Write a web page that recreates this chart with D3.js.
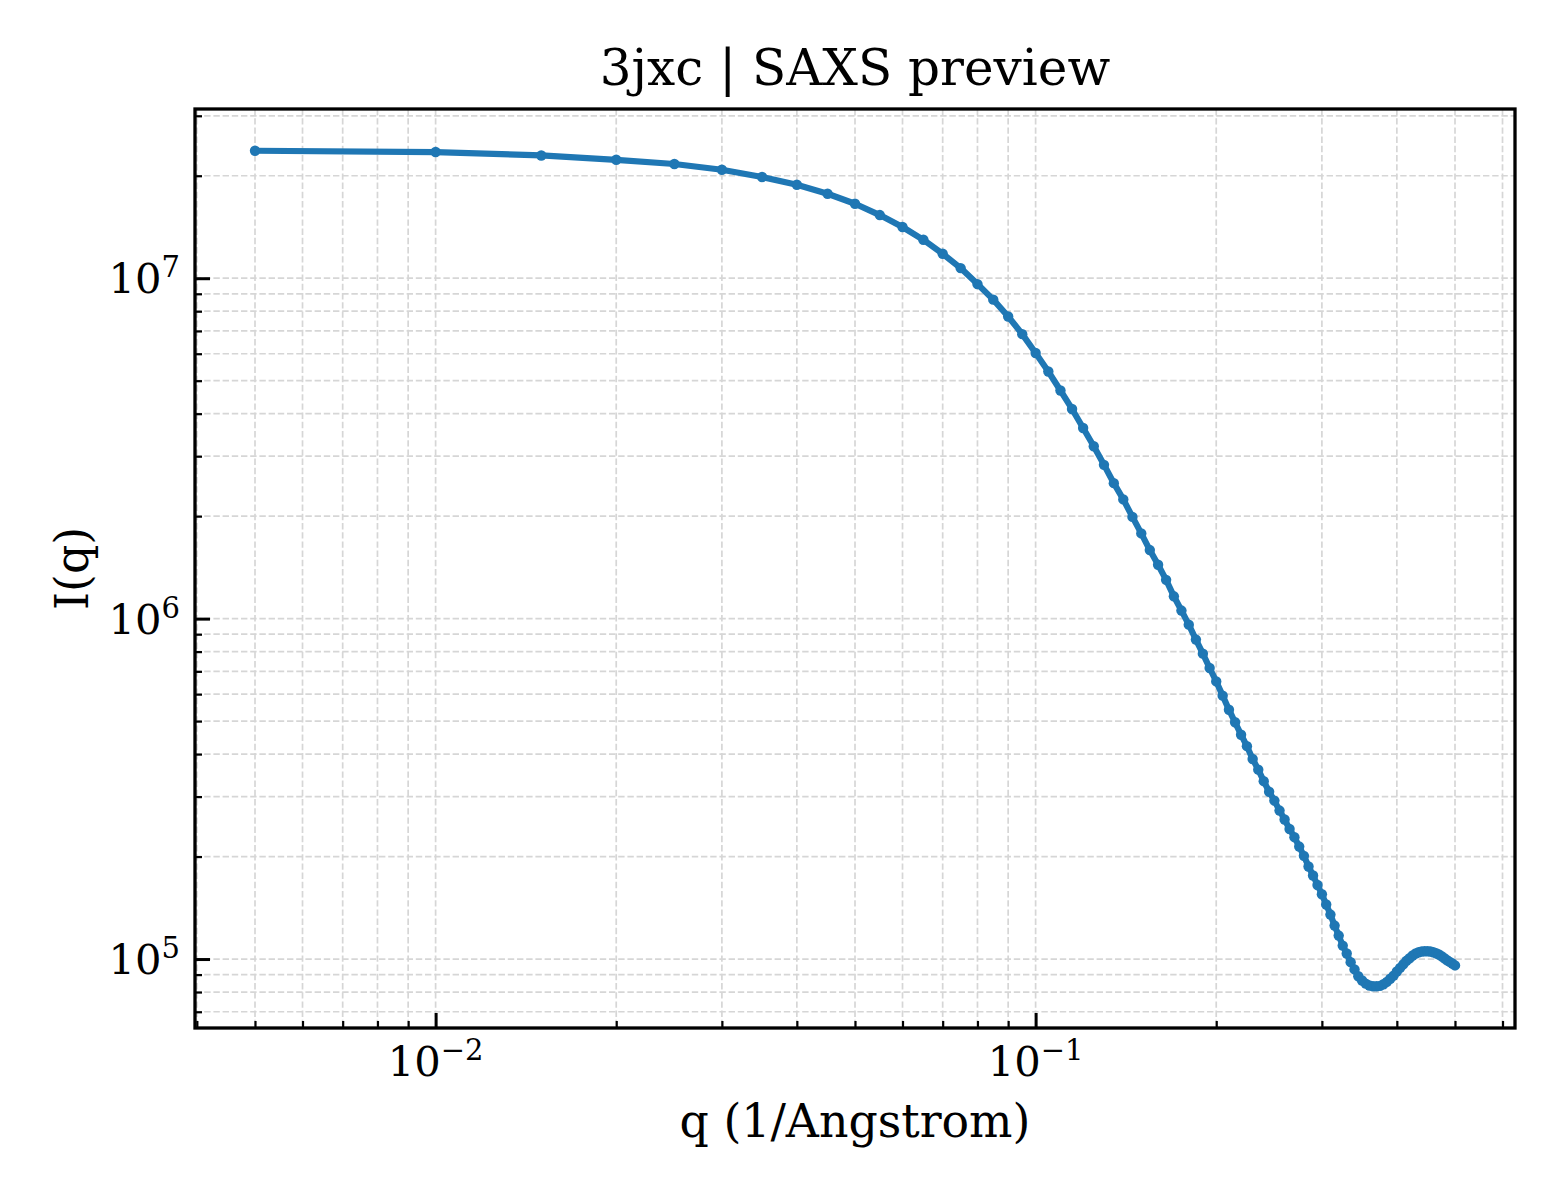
<!DOCTYPE html>
<html>
<head>
<meta charset="utf-8">
<script src="https://cdn.jsdelivr.net/npm/d3@7"></script>
<style>
  html, body { margin: 0; padding: 0; background: #fff; }
  svg text { font-family: "DejaVu Serif", serif; fill: #000; }
</style>
</head>
<body>
<svg id="chart" width="1560" height="1200"></svg>
<script>
// q (1/Angstrom) sampled every 0.005
var qValues = [
    0.005, 0.010, 0.015, 0.020, 0.025, 0.030, 0.035, 0.040, 0.045, 0.050,
    0.055, 0.060, 0.065, 0.070, 0.075, 0.080, 0.085, 0.090, 0.095, 0.100,
    0.105, 0.110, 0.115, 0.120, 0.125, 0.130, 0.135, 0.140, 0.145, 0.150,
    0.155, 0.160, 0.165, 0.170, 0.175, 0.180, 0.185, 0.190, 0.195, 0.200,
    0.205, 0.210, 0.215, 0.220, 0.225, 0.230, 0.235, 0.240, 0.245, 0.250,
    0.255, 0.260, 0.265, 0.270, 0.275, 0.280, 0.285, 0.290, 0.295, 0.300,
    0.305, 0.310, 0.315, 0.320, 0.325, 0.330, 0.335, 0.340, 0.345, 0.350,
    0.355, 0.360, 0.365, 0.370, 0.375, 0.380, 0.385, 0.390, 0.395, 0.400,
    0.405, 0.410, 0.415, 0.420, 0.425, 0.430, 0.435, 0.440, 0.445, 0.450,
    0.455, 0.460, 0.465, 0.470, 0.475, 0.480, 0.485, 0.490, 0.495, 0.500
];

// I(q)
var intensity = [
    2.368e7, 2.348e7, 2.294e7, 2.228e7, 2.165e7, 2.083e7, 1.983e7, 1.882e7, 1.771e7, 1.655e7,
    1.533e7, 1.414e7, 1.297e7, 1.180e7, 1.071e7, 9.61e6, 8.65e6, 7.72e6, 6.85e6, 6.03e6,
    5.32e6, 4.68e6, 4.13e6, 3.63e6, 3.21e6, 2.83e6, 2.50e6, 2.24e6, 1.99e6, 1.78e6,
    1.59e6, 1.44e6, 1.30e6, 1.163e6, 1.056e6, 9.60e5, 8.68e5, 7.89e5, 7.16e5, 6.54e5,
    5.94e5, 5.40e5, 4.96e5, 4.56e5, 4.22e5, 3.87e5, 3.60e5, 3.33e5, 3.10e5, 2.92e5,
    2.73e5, 2.57e5, 2.41e5, 2.28e5, 2.14e5, 2.01e5, 1.87e5, 1.76e5, 1.65e5, 1.55e5,
    1.446e5, 1.351e5, 1.254e5, 1.172e5, 1.095e5, 1.038e5, 9.79e4, 9.32e4, 8.90e4, 8.65e4,
    8.47e4, 8.36e4, 8.32e4, 8.32e4, 8.34e4, 8.43e4, 8.57e4, 8.75e4, 8.94e4, 9.19e4,
    9.42e4, 9.65e4, 9.88e4, 1.005e5, 1.024e5, 1.038e5, 1.047e5, 1.052e5, 1.054e5, 1.054e5,
    1.052e5, 1.047e5, 1.040e5, 1.031e5, 1.019e5, 1.005e5, 9.92e4, 9.81e4, 9.70e4, 9.58e4
];

// decade exponents that get a label
var xTickExponents = [-2, -1];
var yTickExponents = [5, 6, 7];

var titleText = "3jxc | SAXS preview";
var xLabelText = "q (1/Angstrom)";
var yLabelText = "I(q)";

var setting = {
    left: 195, right: 1515, top: 109, bottom: 1028,
    lineColor: "#1f77b4",
    gridColor: "#d6d6d6"
};

var svg = d3.select("#chart");

/***
 * Log domain padded by 5% of the span in log space, like matplotlib does
 */
function paddedLogDomain(values) {
    var lo = Math.log10(d3.min(values)),
        hi = Math.log10(d3.max(values)),
        pad = (hi - lo) * 0.05;
    return [Math.pow(10, lo - pad), Math.pow(10, hi + pad)];
}

var x = d3.scaleLog()
    .domain(paddedLogDomain(qValues))
    .range([setting.left, setting.right]);

var y = d3.scaleLog()
    .domain(paddedLogDomain(intensity))
    .range([setting.bottom, setting.top]);

/***
 * All 1..9 x 10^k values inside a log domain, split in major / minor
 */
function logTicks(scale) {
    var d = scale.domain(),
        major = [], minor = [];
    for (var k = Math.floor(Math.log10(d[0])); k <= Math.ceil(Math.log10(d[1])); k++) {
        for (var m = 1; m <= 9; m++) {
            var v = m * Math.pow(10, k);
            if (v < d[0] || v > d[1]) continue;
            if (m == 1) major.push(v); else minor.push(v);
        }
    }
    return {major: major, minor: minor};
}

var xt = logTicks(x), yt = logTicks(y);
var allX = xt.major.concat(xt.minor), allY = yt.major.concat(yt.minor);

// dashed grid, major and minor
var grid = svg.append("g")
    .attr("stroke", setting.gridColor)
    .attr("stroke-width", 1.7)
    .attr("stroke-dasharray", "6.4,2.8");

grid.selectAll("line.vx")
    .data(allX)
    .enter()
    .append("line")
    .attr("class", "vx")
    .attr("x1", function (d) { return x(d); })
    .attr("x2", function (d) { return x(d); })
    .attr("y1", setting.top)
    .attr("y2", setting.bottom);

grid.selectAll("line.hy")
    .data(allY)
    .enter()
    .append("line")
    .attr("class", "hy")
    .attr("x1", setting.left)
    .attr("x2", setting.right)
    .attr("y1", function (d) { return y(d); })
    .attr("y2", function (d) { return y(d); });

// the curve
var line = d3.line()
    .x(function (d, i) { return x(qValues[i]); })
    .y(function (d) { return y(d); });

svg.append("path")
    .datum(intensity)
    .attr("fill", "none")
    .attr("stroke", setting.lineColor)
    .attr("stroke-width", 6.2)
    .attr("stroke-linejoin", "round")
    .attr("d", line);

svg.append("g")
    .selectAll("circle")
    .data(intensity)
    .enter()
    .append("circle")
    .attr("cx", function (d, i) { return x(qValues[i]); })
    .attr("cy", function (d) { return y(d); })
    .attr("r", 5.2)
    .attr("fill", setting.lineColor);

// inward ticks on left and bottom
function drawTicks(axis, transform, width) {
    var g = svg.append("g").attr("transform", transform).call(axis);
    g.select(".domain").remove();
    g.selectAll(".tick line").attr("stroke", "#000").attr("stroke-width", width);
    g.selectAll(".tick text").remove();
}

drawTicks(d3.axisBottom(x).tickValues(xt.major).tickSize(-15),
    "translate(0," + setting.bottom + ")", 3);
drawTicks(d3.axisBottom(x).tickValues(xt.minor).tickSize(-7),
    "translate(0," + setting.bottom + ")", 2.2);
drawTicks(d3.axisLeft(y).tickValues(yt.major).tickSize(-15),
    "translate(" + setting.left + ",0)", 3);
drawTicks(d3.axisLeft(y).tickValues(yt.minor).tickSize(-7),
    "translate(" + setting.left + ",0)", 2.2);

// frame
svg.append("rect")
    .attr("x", setting.left)
    .attr("y", setting.top)
    .attr("width", setting.right - setting.left)
    .attr("height", setting.bottom - setting.top)
    .attr("fill", "none")
    .attr("stroke", "#000")
    .attr("stroke-width", 3.3);

// 10^k labels
function powerLabel(sel, exp) {
    sel.append("tspan").text("10");
    sel.append("tspan")
        .attr("dy", -16)
        .attr("font-size", 29)
        .text(String(exp).replace("-", "\u2212"));
}

svg.append("g")
    .selectAll("text")
    .data(xTickExponents)
    .enter()
    .append("text")
    .attr("x", function (d) { return x(Math.pow(10, d)); })
    .attr("y", 1076)
    .attr("text-anchor", "middle")
    .attr("font-size", 41.7)
    .each(function (d) { powerLabel(d3.select(this), d); });

svg.append("g")
    .selectAll("text")
    .data(yTickExponents)
    .enter()
    .append("text")
    .attr("x", 180)
    .attr("y", function (d) { return y(Math.pow(10, d)) + 15; })
    .attr("text-anchor", "end")
    .attr("font-size", 41.7)
    .each(function (d) { powerLabel(d3.select(this), d); });

// title and axis labels
svg.append("text")
    .attr("x", (setting.left + setting.right) / 2)
    .attr("y", 85)
    .attr("text-anchor", "middle")
    .attr("font-size", 50)
    .text(titleText);

svg.append("text")
    .attr("x", (setting.left + setting.right) / 2)
    .attr("y", 1137)
    .attr("text-anchor", "middle")
    .attr("font-size", 45.8)
    .text(xLabelText);

svg.append("text")
    .attr("transform", "translate(88," + (setting.top + setting.bottom) / 2 + ") rotate(-90)")
    .attr("text-anchor", "middle")
    .attr("font-size", 45.8)
    .text(yLabelText);
</script>
</body>
</html>
